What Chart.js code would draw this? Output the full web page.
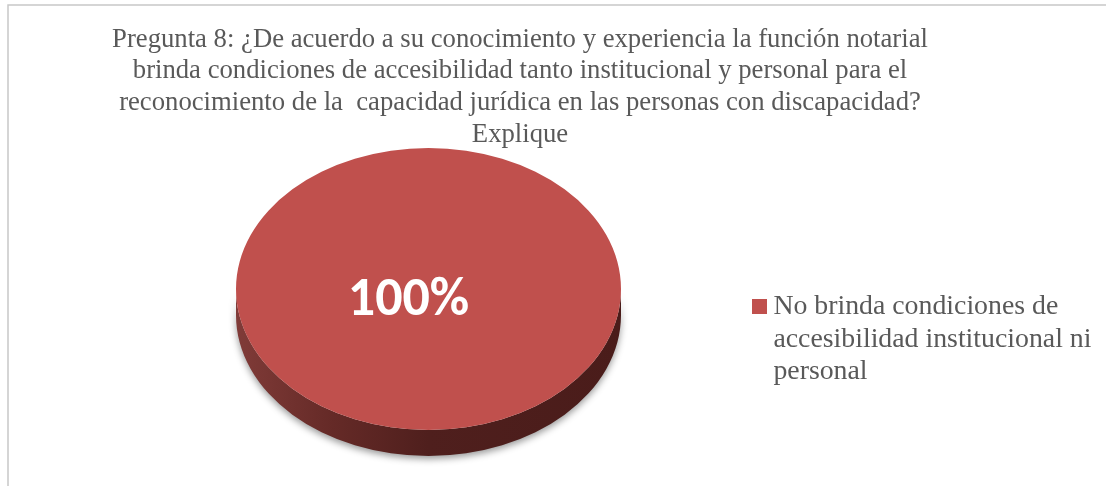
<!DOCTYPE html>
<html>
<head>
<meta charset="utf-8">
<script src="https://cdn.jsdelivr.net/npm/chart.js@4"></script>
<style>
  html, body { margin: 0; background: #fff; }
  #wrap { position: relative; width: 1106px; height: 486px; }
</style>
</head>
<body>
<div id="wrap"><canvas id="grafico" width="1106" height="486"></canvas></div>
<script>
const categorias = ['No brinda condiciones de accesibilidad institucional ni personal'];
const valores = [100];
const etiquetas = ['100%'];
const leyenda = ['No brinda condiciones de', 'accesibilidad institucional ni', 'personal'];
const titulo = [
  'Pregunta 8: ¿De acuerdo a su conocimiento y experiencia la función notarial',
  'brinda condiciones de accesibilidad tanto institucional y personal para el',
  'reconocimiento de la  capacidad jurídica en las personas con discapacidad?',
  'Explique'
];

const FUENTE = '"Liberation Serif", "Times New Roman", serif';
const ROJO = '#c0504d';
const GRIS = '#595959';
const APLASTE = 141 / 192.5;
const GROSOR = 26;

// little square for the legend, Chart.js leaves too wide a gap with its own box
const cuadro = document.createElement('canvas');
cuadro.width = 15;
cuadro.height = 15;
const cuadroCtx = cuadro.getContext('2d');
cuadroCtx.fillStyle = ROJO;
cuadroCtx.fillRect(0, 0, 15, 15);

// title, legend and pie don't sit where the layout boxes would put them
const colocar = {
  id: 'colocar',
  afterLayout(chart) {
    chart.chartArea = { left: 236, right: 621, top: 96.5, bottom: 481.5, width: 385, height: 385 };
    chart.titleBlock.left = 20;
    chart.titleBlock.right = 1020;
    chart.legend.left = 751;
    chart.legend.right = 1106;
    chart.legend.top = 285;
  }
};

// the pie comes out round, so squash it and put the side wall underneath
const pie3d = {
  id: 'pie3d',
  beforeDatasetsDraw(chart) {
    const { ctx } = chart;
    const arc = chart.getDatasetMeta(0).data[0];
    const rx = arc.outerRadius, ry = rx * APLASTE;
    const g = ctx.createLinearGradient(arc.x - rx, 0, arc.x + rx, 0);
    g.addColorStop(0, '#803b38');
    g.addColorStop(0.25, '#652a27');
    g.addColorStop(0.5, '#4f1f1d');
    g.addColorStop(1, '#4a1c1a');
    ctx.save();
    ctx.shadowColor = 'rgba(0,0,0,0.4)';
    ctx.shadowBlur = 7;
    ctx.shadowOffsetY = 3;
    ctx.fillStyle = g;
    ctx.beginPath();
    ctx.ellipse(arc.x, arc.y, rx, ry, 0, 0, Math.PI);
    ctx.ellipse(arc.x, arc.y + GROSOR, rx, ry, 0, Math.PI, 0, true);
    ctx.closePath();
    ctx.fill();
    ctx.restore();
    ctx.save();
    ctx.translate(arc.x, arc.y);
    ctx.scale(1, APLASTE);
    ctx.translate(-arc.x, -arc.y);
  },
  afterDatasetsDraw(chart) {
    const { ctx } = chart;
    ctx.restore();
    const arc = chart.getDatasetMeta(0).data[0];
    ctx.save();
    ctx.font = 'bold 54px Carlito, Lato, sans-serif';
    ctx.fillStyle = '#fff';
    ctx.textAlign = 'center';
    ctx.textBaseline = 'middle';
    ctx.fillText(etiquetas[0], arc.x - 20, arc.y + 12);
    ctx.restore();
  }
};

// only the top and left edges of the frame show in the picture
const marco = {
  id: 'marco',
  beforeDraw(chart) {
    const { ctx } = chart;
    ctx.save();
    ctx.strokeStyle = '#c8c8c8';
    ctx.lineWidth = 1.5;
    ctx.beginPath();
    ctx.moveTo(8, 486);
    ctx.lineTo(8, 5);
    ctx.lineTo(1106, 5);
    ctx.stroke();
    ctx.restore();
  }
};

new Chart(document.getElementById('grafico'), {
  type: 'pie',
  data: {
    labels: categorias,
    datasets: [{
      data: valores,
      backgroundColor: [ROJO],
      borderWidth: 0
    }]
  },
  options: {
    responsive: false,
    animation: false,
    plugins: {
      tooltip: { enabled: false },
      title: {
        display: true,
        text: titulo,
        color: GRIS,
        font: { family: FUENTE, size: 26.7, weight: 'normal', lineHeight: 31.6 / 26.7 },
        padding: { top: 24, bottom: 0 }
      },
      legend: {
        position: 'right',
        align: 'start',
        labels: {
          generateLabels: () => [{ text: leyenda, fontColor: GRIS, pointStyle: cuadro, hidden: false, index: 0, lineWidth: 0 }],
          usePointStyle: true,
          pointStyleWidth: 0.5,
          padding: 8,
          color: GRIS,
          font: { family: FUENTE, size: 27.8, lineHeight: 32.5 / 27.8 }
        }
      }
    }
  },
  plugins: [colocar, marco, pie3d]
});
</script>
</body>
</html>
